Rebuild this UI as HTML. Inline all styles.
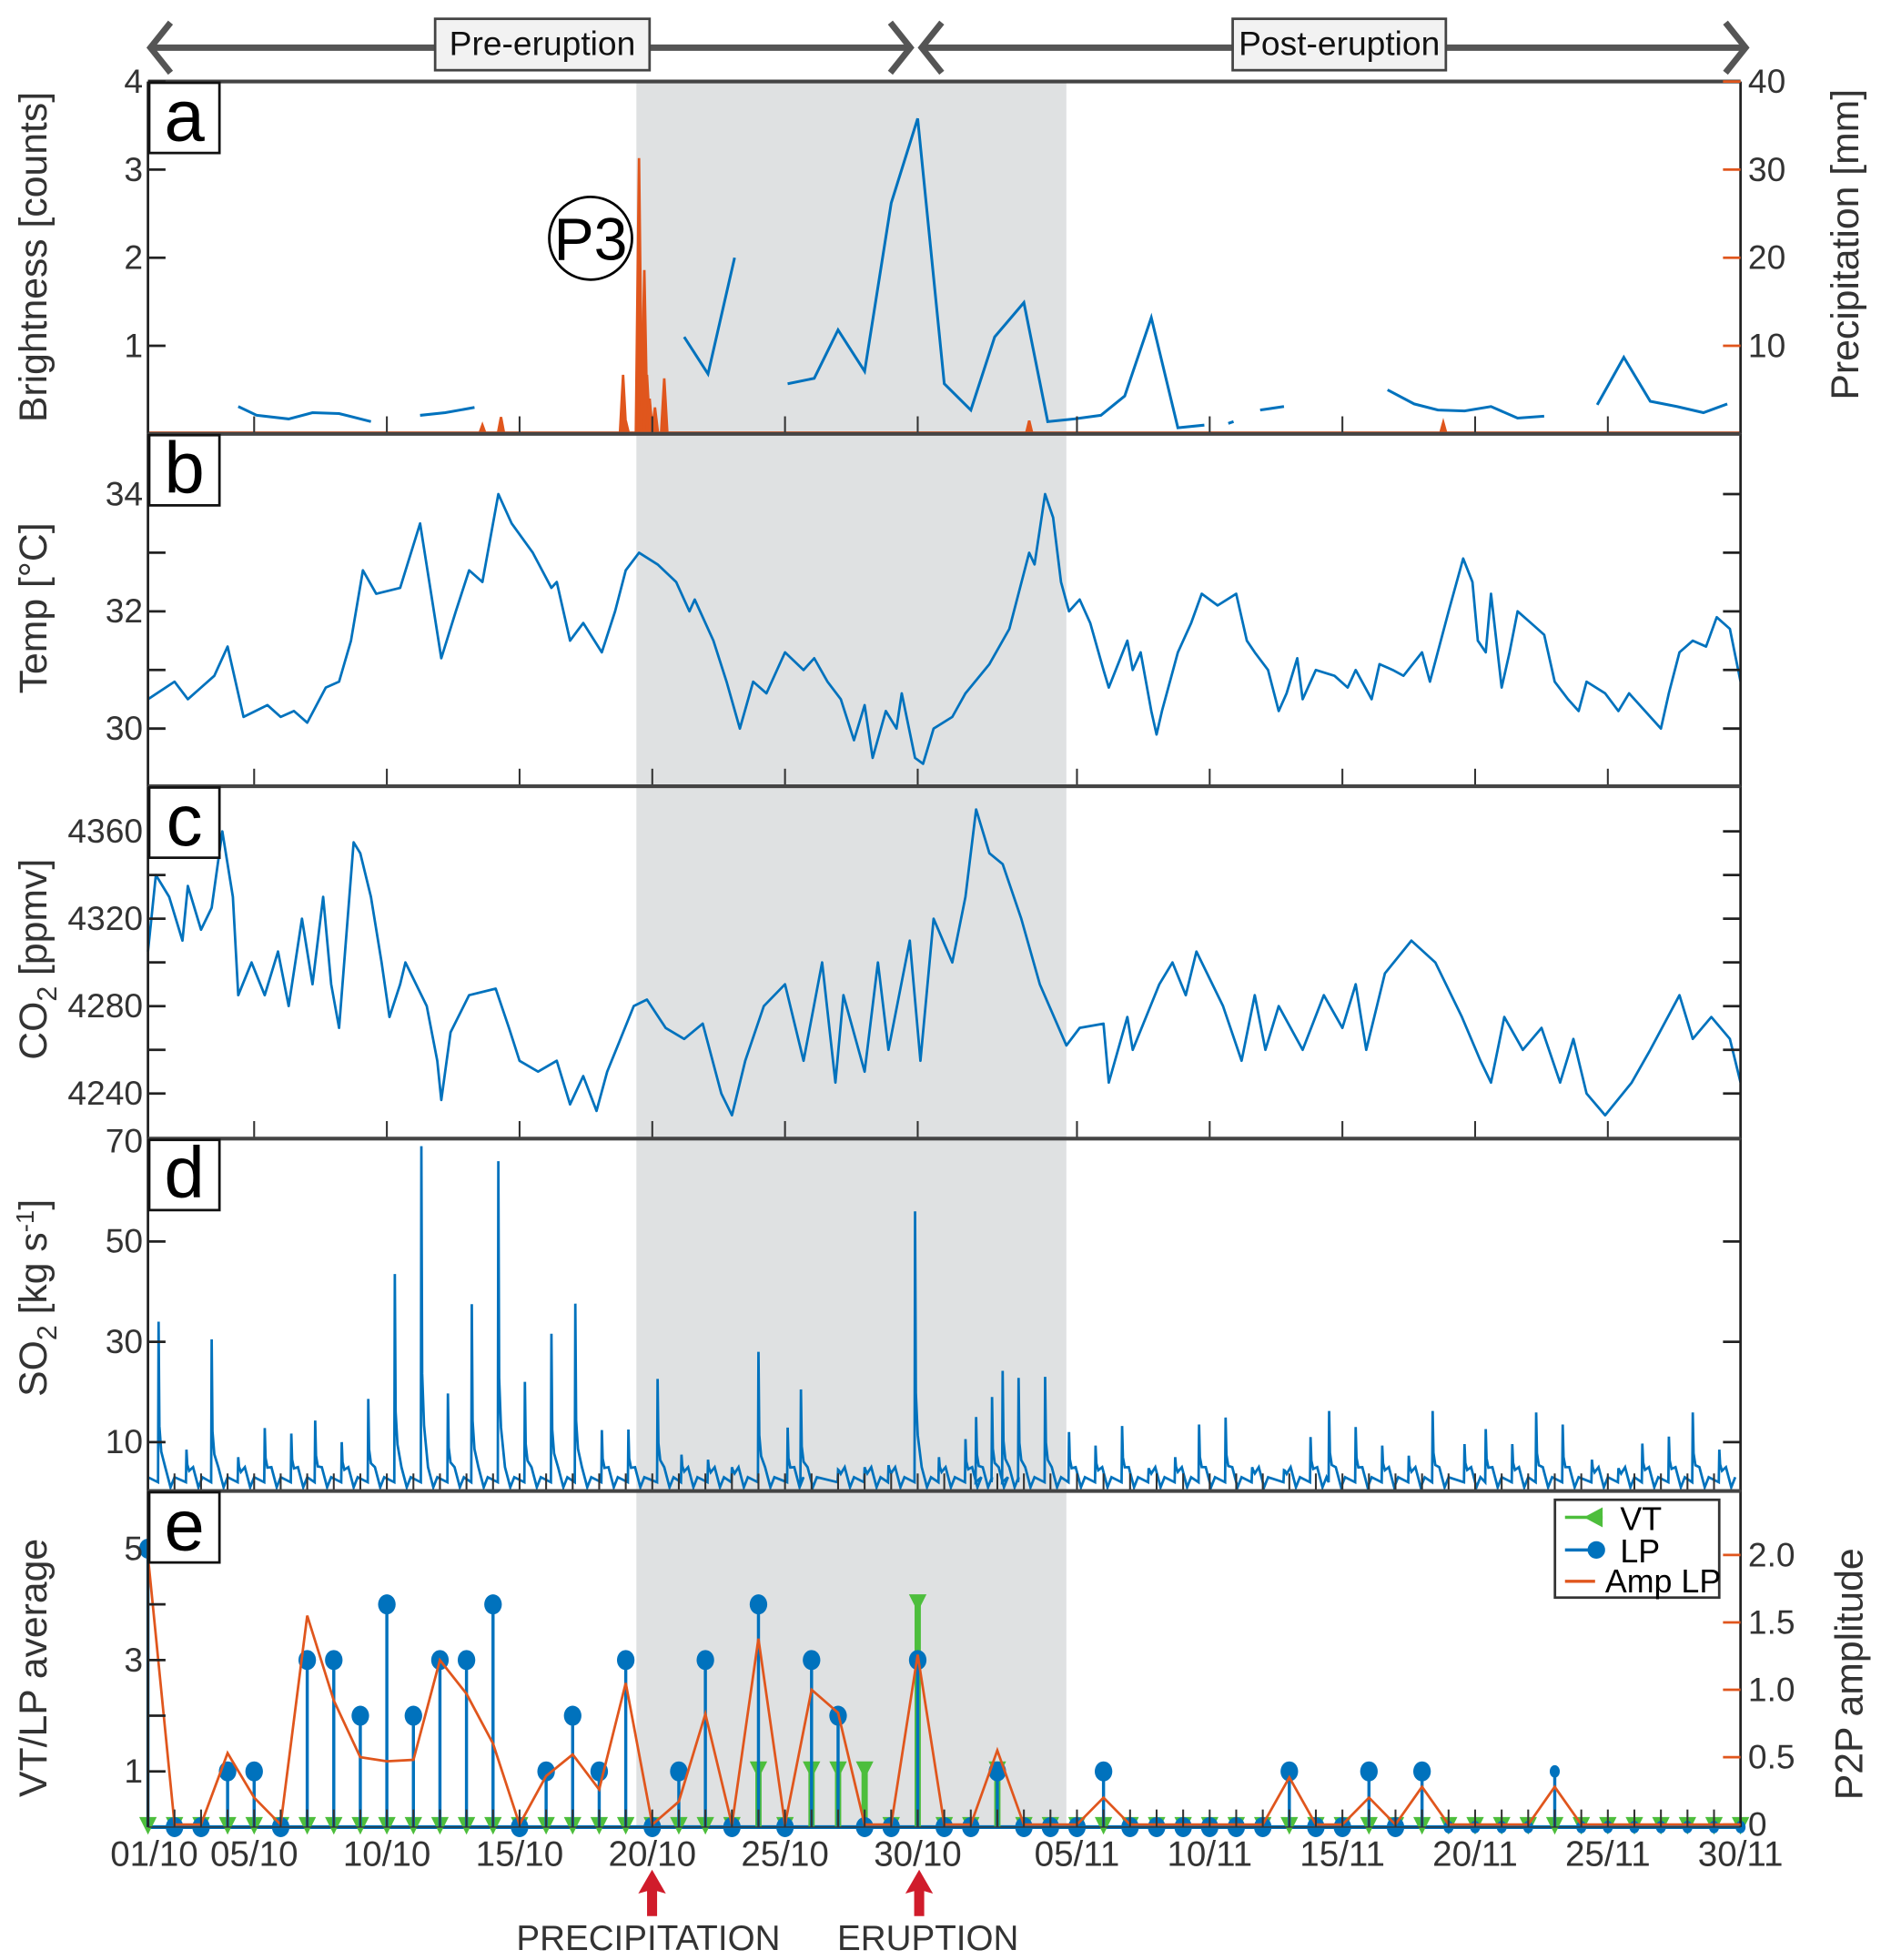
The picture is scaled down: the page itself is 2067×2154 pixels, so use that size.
<!DOCTYPE html>
<html><head><meta charset="utf-8"><style>
html,body{margin:0;padding:0;background:#fff;}
svg{display:block;font-family:"Liberation Sans Narrow","Liberation Sans",sans-serif;}
</style></head><body>
<svg id="chart" width="2067" height="2154" viewBox="0 0 1500 1563" preserveAspectRatio="none" xmlns="http://www.w3.org/2000/svg"></svg>
<script>
// ---- data (day index from 01/10) ----
const dateTickDays = [0,4,9,14,19,24,29,35,40,45,50,55,60];
const dateTickLabels = ["01/10","05/10","10/10","15/10","20/10","25/10","30/10","05/11","10/11","15/11","20/11","25/11","30/11"];
const shadeStart = 18.4, shadeEnd = 34.6;
// brightness (NaN = gap)
const brightDays = [3.4,4.1,5.3,6.2,7.2,8.4,NaN,10.25,11.2,12.3,NaN,20.2,21.1,22.1,NaN,24.1,25.1,26,27,28,29,30,31,31.9,33,33.9,34.9,35.9,36.8,37.8,38.8,39.8,NaN,40.7,40.9,NaN,41.9,42.8,NaN,46.7,47.7,48.6,49.6,50.6,51.6,52.6,NaN,54.6,55.6,56.6,57.6,58.6,59.5];
const brightVals = [0.31,0.21,0.17,0.24,0.23,0.14,NaN,0.21,0.24,0.3,NaN,1.1,0.68,2.0,NaN,0.57,0.63,1.18,0.71,2.62,3.58,0.57,0.27,1.1,1.49,0.14,0.17,0.21,0.43,1.32,0.07,0.1,NaN,0.12,0.14,NaN,0.27,0.31,NaN,0.5,0.34,0.27,0.26,0.31,0.18,0.2,NaN,0.33,0.87,0.37,0.31,0.24,0.34];
const precipDays = [12.6,13.3,17.9,18.0,18.5,18.7,18.8,18.9,19.1,19.45,33.2,48.8];
const precipVals = [1.0,1.9,6.7,1.5,31.3,18.6,6.7,4.0,3.0,6.3,1.5,1.3];
// temperature
const tempDays = [0,1,1.5,2,2.5,3,3.6,4.5,5,5.5,6,6.7,7.2,7.65,8.1,8.6,9.5,10.25,11.05,11.6,12.1,12.6,13.2,13.7,14.5,15.2,15.4,15.9,16.4,17.1,17.6,18,18.5,19.2,19.9,20.4,20.6,21.3,21.8,22.3,22.8,23.3,24,24.7,25.1,25.6,26.1,26.6,27.0,27.3,27.8,28.2,28.4,28.9,29.2,29.6,30.3,30.8,31.7,32.45,33.2,33.4,33.8,34.1,34.4,34.7,35.1,35.5,36,36.2,36.9,37.1,37.4,37.8,38,38.2,38.8,39.3,39.7,40.3,41,41.4,41.7,42.2,42.6,42.9,43.3,43.5,44,44.7,45.2,45.5,46.1,46.4,46.9,47.3,48,48.3,49,49.55,49.9,50.1,50.4,50.6,51,51.3,51.6,52.1,52.6,53,53.5,53.9,54.2,54.9,55.4,55.8,57,57.3,57.7,58.2,58.7,59.1,59.6,60];
const tempVals = [30.5,30.8,30.5,30.7,30.9,31.4,30.2,30.4,30.2,30.3,30.1,30.7,30.8,31.5,32.7,32.3,32.4,33.5,31.2,32.0,32.7,32.5,34.0,33.5,33.0,32.4,32.5,31.5,31.8,31.3,32.0,32.7,33.0,32.8,32.5,32.0,32.2,31.5,30.8,30.0,30.8,30.6,31.3,31.0,31.2,30.8,30.5,29.8,30.4,29.5,30.3,30.0,30.6,29.5,29.4,30.0,30.2,30.6,31.1,31.7,33.0,32.8,34.0,33.6,32.5,32.0,32.2,31.8,31.0,30.7,31.5,31.0,31.3,30.3,29.9,30.3,31.3,31.8,32.3,32.1,32.3,31.5,31.3,31.0,30.3,30.6,31.2,30.5,31.0,30.9,30.7,31.0,30.5,31.1,31.0,30.9,31.3,30.8,32.0,32.9,32.5,31.5,31.3,32.3,30.7,31.3,32.0,31.8,31.6,30.8,30.5,30.3,30.8,30.6,30.3,30.6,30.0,30.6,31.3,31.5,31.4,31.9,31.7,30.8];
// CO2
const co2Days = [0,0.3,0.8,1.3,1.5,2.0,2.4,2.8,3.2,3.4,3.9,4.4,4.9,5.3,5.8,6.2,6.6,6.9,7.2,7.75,8.0,8.4,8.8,9.1,9.5,9.7,10.5,10.9,11.05,11.4,12.1,13.1,13.6,14.0,14.7,15.4,15.9,16.4,16.9,17.3,17.8,18.3,18.8,19.5,20.2,20.9,21.6,22.0,22.5,23.2,24.0,24.7,25.4,25.9,26.2,27.0,27.5,27.9,28.7,29.1,29.6,30.3,30.8,31.2,31.7,32.2,32.9,33.6,34.6,35.1,36.0,36.2,36.9,37.1,38.1,38.6,39.1,39.5,40.5,41.2,41.7,42.1,42.6,43.5,44.3,45.0,45.5,45.9,46.6,47.6,48.5,49.5,50.2,50.6,51.1,51.8,52.5,53.2,53.7,54.2,54.9,55.9,56.6,57.7,58.2,58.9,59.6,60];
const co2Vals = [4305,4340,4330,4310,4335,4315,4325,4360,4330,4285,4300,4285,4305,4280,4320,4290,4330,4290,4270,4355,4350,4330,4300,4275,4290,4300,4280,4255,4237,4268,4285,4288,4270,4255,4250,4255,4235,4248,4232,4250,4265,4280,4283,4270,4265,4272,4240,4230,4255,4280,4290,4255,4300,4245,4285,4250,4300,4260,4310,4255,4320,4300,4330,4370,4350,4345,4320,4290,4262,4270,4272,4245,4275,4260,4290,4300,4285,4305,4280,4255,4285,4260,4280,4260,4285,4270,4290,4260,4295,4310,4300,4275,4255,4245,4275,4260,4270,4245,4265,4240,4230,4245,4260,4285,4265,4275,4265,4245];
// SO2 daily degassing spikes
const so2Days = [0.4,1.45,2.4,3.4,4.4,5.4,6.3,7.3,8.3,9.3,10.3,11.3,12.2,13.2,14.2,15.2,16.1,17.1,18.1,19.2,20.1,21.1,22.0,23.0,24.1,24.6,26.0,27.0,27.9,28.9,29.8,30.8,31.2,31.8,32.2,32.8,33.8,34.7,35.7,36.7,37.7,38.7,39.6,40.6,41.6,42.8,43.8,44.5,45.5,46.5,47.5,48.4,49.6,50.4,51.4,52.3,53.3,54.4,55.4,56.3,57.3,58.2,59.2];
const so2Vals = [34,8.5,30.5,7,12.8,11.7,14.3,10,18.6,43.5,69,19.7,37.5,66,22,31.6,37.6,12.4,12.5,22.6,7.5,6.5,5,28,12.9,20.5,4.5,5,5.4,56,7,10.6,15,19,24.2,22.8,23,12,9.3,13.2,4.8,7,13.5,14.9,5,4.4,11,16.2,13,9.3,7.3,16.2,9.6,12.6,9.6,15.9,13.5,6.5,4.8,9.7,11.1,15.9,8.5];
// seismicity (one value per day, days 0..60)
const lpVals = [5,0,0,1,1,0,3,3,2,4,2,3,3,4,0,1,2,1,3,0,1,3,0,4,0,3,2,0,0,3,0,0,1,0,0,0,1,0,0,0,0,0,0,1,0,0,1,0,1,0,0,0,0,1,0,0,0,0,0,0,0];
const vtVals = [0,0,0,0,0,0,0,0,0,0,0,0,0,0,0,0,0,0,0,0,0,0,0,1,0,1,1,1,0,4,0,0,1,0,0,0,0,0,0,0,0,0,0,0,0,0,0,0,0,0,0,0,0,0,0,0,0,0,0,0,0];
const ampVals = [1.99,0,0,0.53,0.2,0,1.55,0.92,0.5,0.47,0.48,1.22,0.97,0.6,0,0.36,0.52,0.26,1.05,0,0.17,0.82,0,1.38,0,1.0,0.83,0,0,1.26,0,0,0.55,0,0,0,0.2,0,0,0,0,0,0,0.35,0,0,0.2,0,0.28,0,0,0,0,0.28,0,0,0,0,0,0,0];

// ---- axes ----
const X0=118, X1=1388;
const xs = d => X0 + d*(X1-X0)/60;
const yA = v => 346 - v*70.25;
const yP = v => 346 - v*7.025;
const yT = v => 581 - (v-30)*46.75;
const yC = v => 872 - (v-4240)*1.742;
const yS = v => 1190 - v*4.0;
const yE = v => 1457 - v*44.4;
const yAmp = v => 1455 - v*107.5;
const panels = [{k:'a',t:65,b:346},{k:'b',t:346,b:627},{k:'c',t:627,b:908},{k:'d',t:908,b:1189},{k:'e',t:1189,b:1457}];

const NS="http://www.w3.org/2000/svg";
const svg=document.getElementById('chart');
function mk(tag, attrs, parent){const e=document.createElementNS(NS,tag);for(const k in attrs)e.setAttribute(k,attrs[k]);(parent||svg).appendChild(e);return e;}
function txt(s, attrs, parent){const e=mk('text',attrs,parent);e.textContent=s;return e;}
function pathFrom(days, vals, xf, yf){let d='',pen=false;for(let i=0;i<days.length;i++){if(isNaN(vals[i])||isNaN(days[i])){pen=false;continue;}d+=(pen?'L':'M')+xf(days[i]).toFixed(1)+','+yf(vals[i]).toFixed(1);pen=true;}return d;}

// shade
let shade=mk('rect',{x:xs(shadeStart),y:65,width:xs(shadeEnd)-xs(shadeStart),height:1392,fill:'#dfe1e2'});



// ---- panel a ----
let pr=mk('g',{});


precipDays.forEach((d,i)=>{
  let p=mk('path',{d:`M${xs(d-0.12)},346L${xs(d)},${yP(precipVals[i])}L${xs(d+0.12)},346`,stroke:'#e0561d','stroke-width':2,fill:'#e0561d'},pr);
  
  
});
let br=mk('path',{d:pathFrom(brightDays,brightVals,xs,yA),stroke:'#0072bd','stroke-width':2.2,fill:'none'});


mk('line',{x1:X0,x2:X1,y1:345,y2:345,stroke:'#e0561d','stroke-width':2});

// ---- panel b ----
let tl=mk('path',{d:pathFrom(tempDays,tempVals,xs,yT),stroke:'#0072bd','stroke-width':2,fill:'none','stroke-linejoin':'round'});


// ---- panel c ----
let cl=mk('path',{d:pathFrom(co2Days,co2Vals,xs,yC),stroke:'#0072bd','stroke-width':2,fill:'none','stroke-linejoin':'round'});


// ---- panel d ----
let sd='M'+xs(0)+','+yS(3);
so2Days.forEach((d,i)=>{
  const v=so2Vals[i];
  sd+=`L${xs(d-0.02)},${yS(2)}L${xs(d)},${yS(v)}L${xs(d+0.03)},${yS(v*0.3+3)}L${xs(d+0.1)},${yS(v*0.15+3)}L${xs(d+0.25)},${yS(5)}L${xs(d+0.45)},${yS(1)}L${xs(d+0.6)},${yS(3)}`;
});
let sl=mk('path',{d:sd,stroke:'#0072bd','stroke-width':2,fill:'none'});



// ---- panel e ----
mk('line',{x1:X0,x2:X1,y1:yE(0),y2:yE(0),stroke:'#0072bd','stroke-width':3});
for(let i=0;i<=60;i++){
  const x=xs(i);
  if(vtVals[i]>0){
    let s=mk('line',{x1:x,x2:x,y1:yE(0),y2:yE(vtVals[i]),stroke:'#4dbe3c','stroke-width':5});
    
    
  }
  let tri=mk('path',{d:`M${x-7},${yE(vtVals[i])-8}L${x+7},${yE(vtVals[i])-8}L${x},${yE(vtVals[i])+6}Z`,fill:'#4dbe3c'});
  
  
}
for(let i=0;i<=60;i++){
  const x=xs(i);
  if(lpVals[i]>0){
    let s=mk('line',{x1:x,x2:x,y1:yE(0),y2:yE(lpVals[i]),stroke:'#0072bd','stroke-width':2.5});
    
    
  }
  let c=mk('ellipse',{cx:x,cy:yE(lpVals[i]),rx:i>=49?4:7,ry:i>=49?5:8,fill:'#0072bd'});
  
  
}
let al=mk('path',{d:pathFrom(lpVals.map((_,i)=>i),ampVals,xs,yAmp),stroke:'#e0561d','stroke-width':2,fill:'none'});



// ---- frames & ticks ----
panels.forEach(p=>{
  mk('line',{x1:X0,x2:X0,y1:p.t,y2:p.b,stroke:'#222','stroke-width':2});
  mk('line',{x1:X1,x2:X1,y1:p.t,y2:p.b,stroke:'#222','stroke-width':2});
  mk('line',{x1:X0,x2:X1,y1:p.t,y2:p.t,stroke:'#444','stroke-width':3});
  const step = (p.k==='d'||p.k==='e')?1:null;
  const tdays = step? [...Array(61).keys()] : dateTickDays;
  tdays.forEach(d=>{ if(d>0&&d<60) mk('line',{x1:xs(d),x2:xs(d),y1:p.b-14,y2:p.b,stroke:'#333','stroke-width':1.5}); });
});
mk('line',{x1:X0,x2:X1,y1:1457,y2:1457,stroke:'#333','stroke-width':1});

function yTicks(vals, yf, labels, side, color){
  vals.forEach((v,i)=>{
    const y=yf(v);
    if(side==='L'){ mk('line',{x1:X0,x2:X0+14,y1:y,y2:y,stroke:color||'#222','stroke-width':2});
      if(labels[i]!=='') { let t=txt(labels[i],{x:X0-4,y:y+9,'font-size':27,'text-anchor':'end',fill:'#333'});   } }
    else { mk('line',{x1:X1-14,x2:X1,y1:y,y2:y,stroke:color||'#222','stroke-width':2});
      if(labels[i]!=='') { let t=txt(labels[i],{x:X1+6,y:y+9,'font-size':27,'text-anchor':'start',fill:'#333'});   } }
  });
}
yTicks([1,2,3,4],yA,['1','2','3','4'],'L');
yTicks([10,20,30,40],yP,['10','20','30','40'],'R','#e0561d');
yTicks([30,31,32,33,34],yT,['30','','32','','34'],'L');
yTicks([30,31,32,33,34],yT,['','','','',''],'R');
yTicks([4240,4260,4280,4300,4320,4340,4360],yC,['4240','','4280','','4320','','4360'],'L');
yTicks([4240,4260,4280,4300,4320,4340,4360],yC,['','','','','','',''],'R');
yTicks([10,30,50,70],yS,['10','30','50','70'],'L');
yTicks([10,30,50],yS,['','',''],'R');
yTicks([1,2,3,4,5],yE,['1','','3','','5'],'L');
yTicks([0,0.5,1,1.5,2],yAmp,['0','0.5','1.0','1.5','2.0'],'R','#e0561d');

dateTickDays.forEach((d,i)=>{
  let t=txt(dateTickLabels[i],{x:xs(d)+(i===0?5:0),y:1488,'font-size':28,'text-anchor':'middle',fill:'#333'});
  
  
});

// panel letters
panels.forEach(p=>{
  let g=mk('g',{});
  
  
  mk('rect',{x:119,y:p.t+1,width:56,height:56,fill:'#fff',stroke:'#111','stroke-width':2},g);
  txt(p.k,{x:147,y:p.t+47,'font-size':58,'text-anchor':'middle',fill:'#000'},g);
});

// axis titles
function vtitle(s,x,y,name){let t=txt(s,{x:x,y:y,'font-size':31,'text-anchor':'middle',fill:'#333',transform:`rotate(-90 ${x} ${y})`});return t;}
vtitle('Brightness [counts]',37,205,'brightness-axis-title');
vtitle('Temp [°C]',37,485,'temp-axis-title');
let co2t=vtitle('',37,765,'co2-axis-title');
co2t.innerHTML='CO<tspan font-size="22" dy="8">2</tspan><tspan dy="-8"> [ppmv]</tspan>';
let so2t=vtitle('',37,1035,'so2-axis-title');
so2t.innerHTML='SO<tspan font-size="22" dy="8">2</tspan><tspan dy="-8"> [kg s</tspan><tspan font-size="20" dy="-10">-1</tspan><tspan dy="10">]</tspan>';
vtitle('VT/LP average',37,1330,'vt-lp-axis-title');
vtitle('Precipitation [mm]',1482,195,'precipitation-axis-title');
vtitle('P2P amplitude',1485,1335,'p2p-axis-title');

// P3 marker
let p3=mk('g',{});


mk('circle',{cx:471,cy:190,r:33,fill:'none',stroke:'#000','stroke-width':2},p3);
txt('P3',{x:471,y:207,'font-size':48,'text-anchor':'middle',fill:'#000'},p3);

// top phase arrows
function harrow(x1,x2,name){
  let g=mk('g',{});
  
  
  mk('line',{x1:x1,x2:x2,y1:38,y2:38,stroke:'#555','stroke-width':5},g);
  mk('path',{d:`M${x1+16},18L${x1},38L${x1+16},58`,stroke:'#555','stroke-width':5,fill:'none'},g);
  mk('path',{d:`M${x2-16},18L${x2},38L${x2-16},58`,stroke:'#555','stroke-width':5,fill:'none'},g);
}
harrow(120,726,'pre-eruption-arrow');
harrow(735,1392,'post-eruption-arrow');
function phaseBox(x,w,s,name){
  let g=mk('g',{});
  
  
  mk('rect',{x:x,y:15,width:w,height:41,fill:'#f2f2f2',stroke:'#444','stroke-width':2},g);
  txt(s,{x:x+w/2,y:44,'font-size':27,'text-anchor':'middle',fill:'#111'},g);
}
phaseBox(347,171,'Pre-eruption','pre-eruption-label');
phaseBox(983,170,'Post-eruption','post-eruption-label');

// legend
let lg=mk('g',{});


mk('rect',{x:1240,y:1196,width:131,height:78,fill:'#fff',stroke:'#333','stroke-width':2},lg);
mk('line',{x1:1248,x2:1278,y1:1210,y2:1210,stroke:'#4dbe3c','stroke-width':2.5},lg);
mk('path',{d:'M1263,1210L1278,1202L1278,1218Z',fill:'#4dbe3c'},lg);
txt('VT',{x:1292,y:1220,'font-size':26,fill:'#000'},lg);
mk('line',{x1:1248,x2:1278,y1:1236,y2:1236,stroke:'#0072bd','stroke-width':2.5},lg);
mk('circle',{cx:1273,cy:1236,r:7,fill:'#0072bd'},lg);
txt('LP',{x:1292,y:1246,'font-size':26,fill:'#000'},lg);
mk('line',{x1:1248,x2:1272,y1:1261,y2:1261,stroke:'#e0561d','stroke-width':2.5},lg);
txt('Amp LP',{x:1280,y:1270,'font-size':26,fill:'#000'},lg);

// event arrows
function varrow(x,label,tx,name){
  let g=mk('g',{});
  
  
  mk('path',{d:`M${x-4},1528L${x-4},1508L${x-11},1510L${x},1491L${x+11},1510L${x+4},1508L${x+4},1528Z`,fill:'#d01c2b'},g);
  txt(label,{x:tx,y:1555,'font-size':28,'text-anchor':'middle',fill:'#333'},g);
}
varrow(520,'PRECIPITATION',517,'precipitation-event-marker');
varrow(733,'ERUPTION',740,'eruption-event-marker');
</script>
</body></html>
